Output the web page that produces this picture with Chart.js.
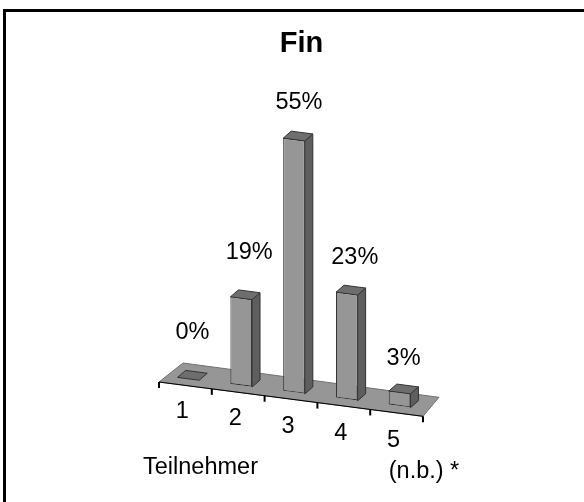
<!DOCTYPE html>
<html>
<head>
<meta charset="utf-8">
<script src="https://cdn.jsdelivr.net/npm/chart.js@4"></script>
<style>
html, body { margin: 0; padding: 0; background: #fff; overflow: hidden; }
#frame { position: absolute; left: 3px; top: 9px; width: 590px; height: 493px; border: solid #000; border-width: 3px 0 0 3px; }
#wrap { position: absolute; left: 0; top: 0; width: 584px; height: 502px; }
</style>
</head>
<body>
<div id="frame"></div>
<div id="wrap"><canvas id="barChart" width="584" height="502"></canvas></div>
<script>
const categories = ['1', '2', '3', '4', '5'];
const values = [0, 19, 55, 23, 3];
const valueLabels = ['0%', '19%', '55%', '23%', '3%'];
// how far each percent label sits from its bar, the originals were placed by hand
const labelGaps = [46, 45, 37, 36, 34];
const labelNudge = [4, 8, 5, 8, 4];

const slope = 0.13;     // the whole plot is sheared downward to the right
const barShift = { x: 3, y: -7 };
const barDepth = { x: 8, y: -7 };
const floorBack = { lx: 24, rx: 16, y: -19 };
const fontFamily = '"Liberation Sans", Arial, sans-serif';

function skewY(chart, x) {
    return slope * (x - chart.chartArea.left);
}

const bar3d = {
    id: 'bar3d',
    beforeDatasetsDraw(chart) {
        const ctx = chart.ctx;
        const a = chart.chartArea;
        const fy = skewY(chart, a.right);

        // floor
        ctx.save();
        ctx.beginPath();
        ctx.moveTo(a.left, a.bottom);
        ctx.lineTo(a.left + floorBack.lx, a.bottom + floorBack.y);
        ctx.lineTo(a.right + floorBack.rx, a.bottom + fy + floorBack.y);
        ctx.lineTo(a.right, a.bottom + fy);
        ctx.closePath();
        ctx.fillStyle = '#969696';
        ctx.fill();
        ctx.strokeStyle = '#707070';
        ctx.lineWidth = 1;
        ctx.stroke();

        // front edge and its ticks
        const x = chart.scales.x;
        const step = x.getPixelForValue(1) - x.getPixelForValue(0);
        ctx.strokeStyle = '#000';
        ctx.beginPath();
        ctx.moveTo(a.left, a.bottom);
        ctx.lineTo(a.right, a.bottom + fy);
        ctx.stroke();
        ctx.lineWidth = 2;
        for (let i = 0; i <= categories.length; i++) {
            const tx = a.left + i * step;
            const ty = a.bottom + skewY(chart, tx);
            ctx.beginPath();
            ctx.moveTo(tx, ty);
            ctx.lineTo(tx, ty + 6);
            ctx.stroke();
        }

        // side and top faces, front faces come from the bar elements
        for (const bar of chart.getDatasetMeta(0).data) {
            const l = bar.x - bar.width / 2 + barShift.x;
            const r = bar.x + bar.width / 2 + barShift.x;
            const yl = bar.y + skewY(chart, l) + barShift.y;
            const yr = bar.y + skewY(chart, r) + barShift.y;
            const br = bar.base + skewY(chart, r) + barShift.y;
            ctx.lineWidth = 1;
            ctx.strokeStyle = '#333';
            if (bar.base - bar.y > 0) {
                ctx.fillStyle = '#5e5e5e';
                ctx.beginPath();
                ctx.moveTo(r, yr);
                ctx.lineTo(r + barDepth.x, yr + barDepth.y);
                ctx.lineTo(r + barDepth.x, br + barDepth.y);
                ctx.lineTo(r, br);
                ctx.closePath();
                ctx.fill();
                ctx.stroke();
            }
            ctx.fillStyle = '#6e6e6e';
            ctx.beginPath();
            ctx.moveTo(l, yl);
            ctx.lineTo(l + barDepth.x, yl + barDepth.y);
            ctx.lineTo(r + barDepth.x, yr + barDepth.y);
            ctx.lineTo(r, yr);
            ctx.closePath();
            ctx.fill();
            ctx.stroke();
        }
        ctx.restore();
    },
    beforeDatasetDraw(chart) {
        const ctx = chart.ctx;
        ctx.save();
        ctx.transform(1, slope, 0, 1, barShift.x, barShift.y - slope * chart.chartArea.left);
    },
    afterDatasetDraw(chart) {
        chart.ctx.restore();
    },
    afterDatasetsDraw(chart) {
        const ctx = chart.ctx;
        const a = chart.chartArea;
        const x = chart.scales.x;
        ctx.save();
        ctx.fillStyle = '#000';
        ctx.textAlign = 'center';
        ctx.textBaseline = 'middle';

        // title sits right of the canvas centre in the original
        ctx.font = 'bold 29px ' + fontFamily;
        ctx.fillText('Fin', 301.5, 44);

        ctx.font = '23.5px ' + fontFamily;

        // percent labels
        chart.getDatasetMeta(0).data.forEach((bar, i) => {
            const cx = bar.x + barShift.x + labelNudge[i];
            const cy = bar.y + skewY(chart, bar.x) + barShift.y - labelGaps[i];
            ctx.fillText(valueLabels[i], cx, cy);
        });

        // category labels follow the slanted axis
        categories.forEach((c, i) => {
            const tx = x.getPixelForValue(i);
            ctx.fillText(c, tx - 3, a.bottom + skewY(chart, tx) * 1.08 + 25.5);
        });
        ctx.fillText('(n.b.) *', 424, 472);
        ctx.fillText('Teilnehmer', 200.5, 468);
        ctx.restore();
    }
};

new Chart(document.getElementById('barChart').getContext('2d'), {
    type: 'bar',
    data: {
        labels: categories,
        datasets: [{
            data: values,
            backgroundColor: '#969696',
            borderColor: '#333',
            borderWidth: 1,
            borderSkipped: false,
            clip: false,
            categoryPercentage: 1,
            barPercentage: 0.41
        }]
    },
    options: {
        responsive: false,
        animation: false,
        layout: { padding: { left: 159, right: 161, bottom: 120, top: 106 } },
        plugins: {
            legend: { display: false },
            tooltip: { enabled: false },
            title: { display: false }
        },
        scales: {
            x: { display: false },
            y: { display: false, min: 0, max: 60 }
        }
    },
    plugins: [bar3d]
});
</script>
</body>
</html>
